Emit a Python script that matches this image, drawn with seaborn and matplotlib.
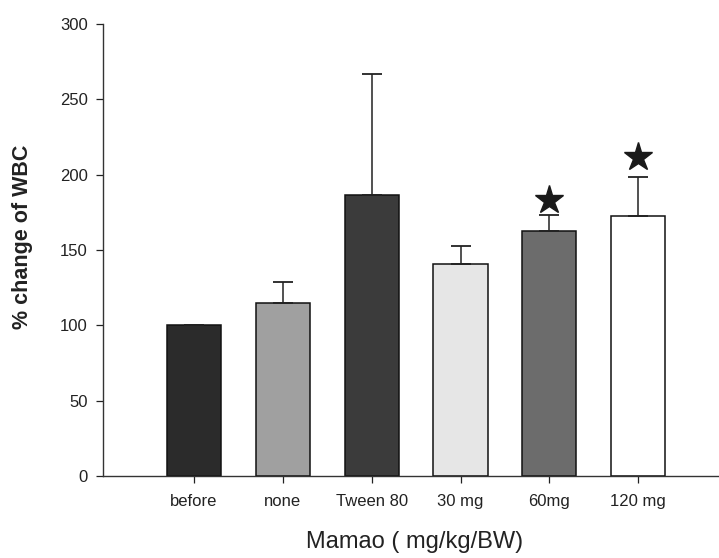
import matplotlib
matplotlib.use("Agg")
import matplotlib.pyplot as plt
import seaborn as sns
import pandas as pd
import numpy as np

categories = ["before", "none", "Tween 80", "30 mg", "60mg", "120 mg"]
values = [100, 114.5, 186.5, 141, 162.5, 172.5]
err_upper = [0, 14, 80, 11.5, 10.5, 26]
star_flags = [False, False, False, False, True, True]
star_heights = [0, 0, 0, 0, 183.5, 212]
colors = ["#2b2b2b", "#a0a0a0", "#3b3b3b", "#e6e6e6", "#6c6c6c", "#ffffff"]
yticks = [0, 50, 100, 150, 200, 250, 300]

sns.set_theme(style="ticks")
plt.rcParams["font.family"] = ["Liberation Sans", "DejaVu Sans"]

df = pd.DataFrame({"group": categories, "value": values})

fig = plt.figure(figsize=(7.19, 5.58), dpi=100)
ax = fig.add_axes([0.1433, 0.147, 0.8567, 0.81])

sns.barplot(data=df, x="group", y="value", hue="group", order=categories,
            palette=dict(zip(categories, colors)), dodge=False, legend=False,
            errorbar=None, width=0.61, edgecolor="#111111", linewidth=1.1, ax=ax)

xpos = np.arange(len(categories))
ax.errorbar(xpos, values, yerr=[np.zeros(len(values)), err_upper], fmt="none",
            ecolor="#222222", elinewidth=1.1, capsize=7, capthick=1.3, zorder=1)

sx = [x for x, f in zip(xpos, star_flags) if f]
sy = [h for h, f in zip(star_heights, star_flags) if f]
ax.plot(sx, sy, linestyle="none", marker="*", markersize=21, color="#1a1a1a")

ax.set_xlim(-1.025, 5.91)
ax.set_ylim(0, 300)
ax.set_yticks(yticks)
ax.set_yticklabels([str(t) for t in yticks])
ax.tick_params(axis="both", labelsize=12, colors="#222222", length=5, width=0.9)
ax.tick_params(axis="y", pad=6)
ax.tick_params(axis="x", pad=8)
for lab in ax.get_xticklabels() + ax.get_yticklabels():
    lab.set_color("#222222")

for s in ["top", "right"]:
    ax.spines[s].set_visible(False)
for s in ["left", "bottom"]:
    ax.spines[s].set_color("#333333")
    ax.spines[s].set_linewidth(1.0)

ax.set_ylabel("% change of WBC", fontsize=15.5, fontweight="bold", color="#222222")
ax.yaxis.label.set_va("center")
ax.yaxis.set_label_coords(-0.13, 0.529)
ax.set_xlabel("Mamao ( mg/kg/BW)", fontsize=17, color="#222222")
ax.xaxis.label.set_va("center")
ax.xaxis.set_label_coords(0.506, -0.146)

fig.savefig("out.png", dpi=100)
